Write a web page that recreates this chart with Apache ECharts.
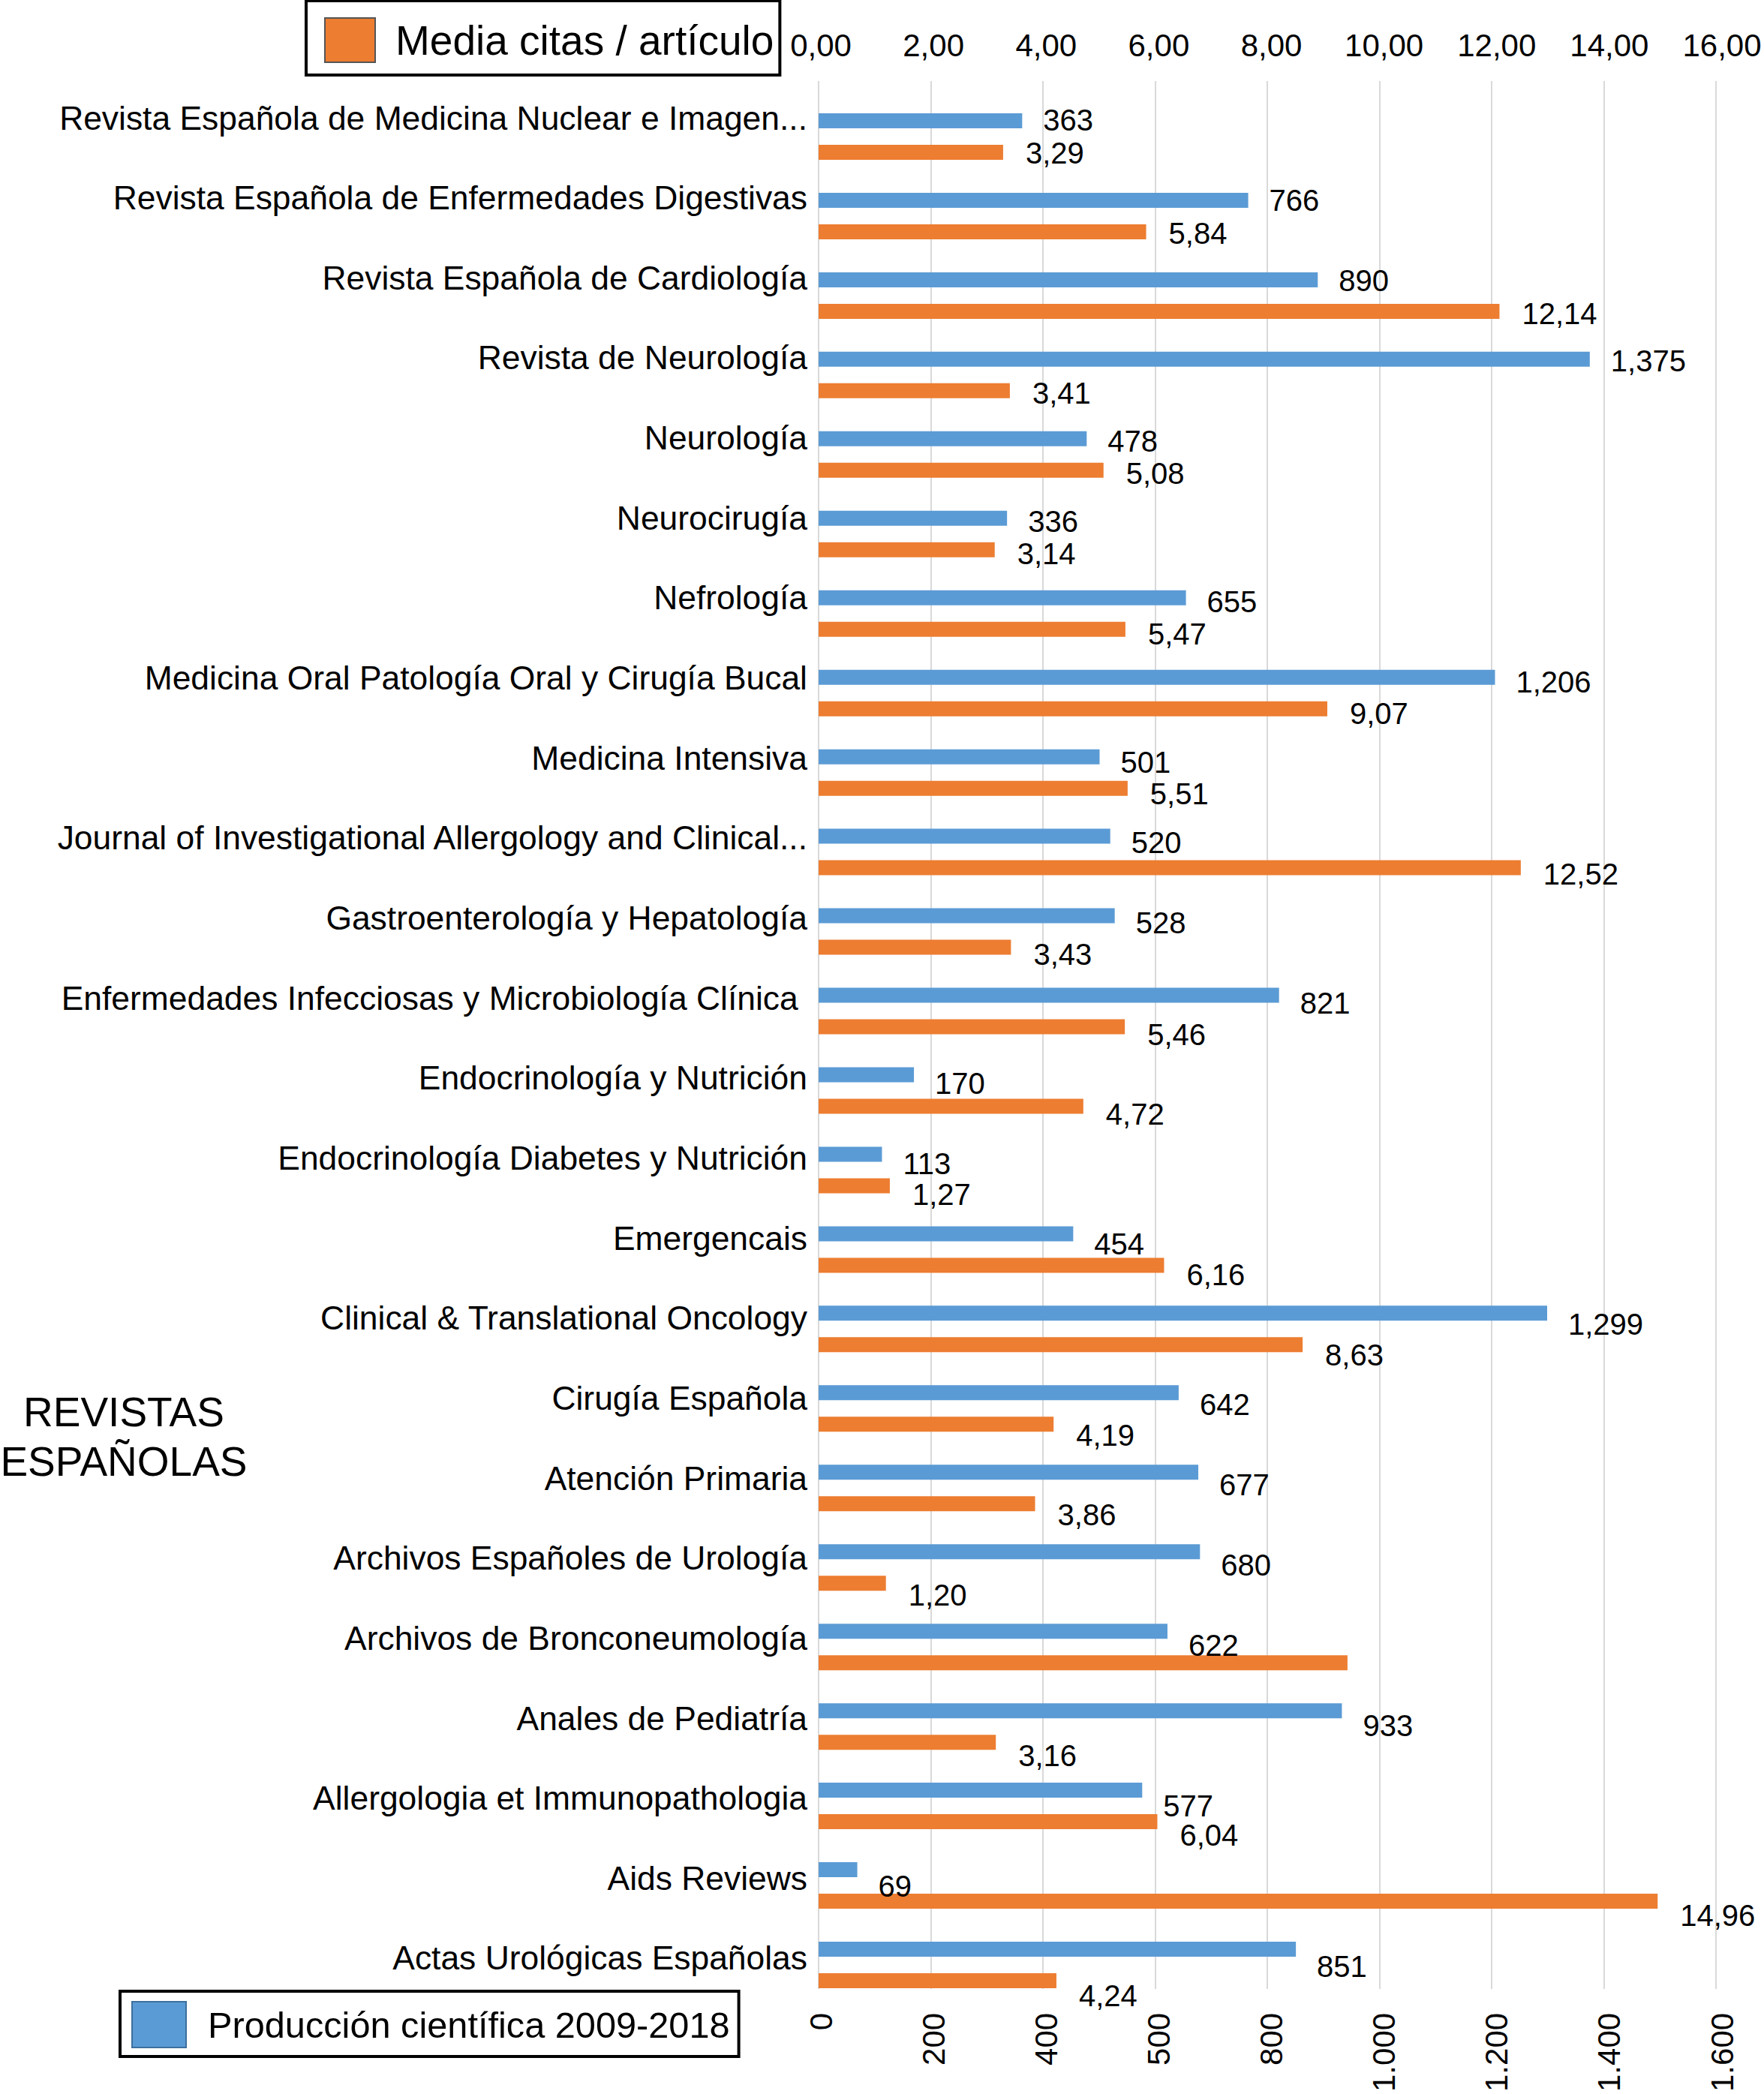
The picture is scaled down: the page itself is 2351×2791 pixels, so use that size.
<!DOCTYPE html>
<html>
<head>
<meta charset="utf-8">
<script src="https://cdn.jsdelivr.net/npm/echarts@6/dist/echarts.min.js"></script>
<style>
html,body{margin:0;padding:0;background:#ffffff;}
#chart{width:2351px;height:2791px;}
</style>
</head>
<body>
<div id="chart"></div>
<script>
const categories = [
  'Revista Española de Medicina Nuclear e Imagen...',
  'Revista Española de Enfermedades Digestivas',
  'Revista Española de Cardiología',
  'Revista de Neurología',
  'Neurología',
  'Neurocirugía',
  'Nefrología',
  'Medicina Oral Patología Oral y Cirugía Bucal',
  'Medicina Intensiva',
  'Journal of Investigational Allergology and Clinical...',
  'Gastroenterología y Hepatología',
  'Enfermedades Infecciosas y Microbiología Clínica\u00a0',
  'Endocrinología y Nutrición',
  'Endocrinología Diabetes y Nutrición',
  'Emergencais',
  'Clinical & Translational Oncology',
  'Cirugía Española',
  'Atención Primaria',
  'Archivos Españoles de Urología',
  'Archivos de Bronconeumología',
  'Anales de Pediatría',
  'Allergologia et Immunopathologia',
  'Aids Reviews',
  'Actas Urológicas Españolas'
];
const produccion = [363, 766, 890, 1375, 478, 336, 655, 1206, 501, 520, 528, 821, 170, 113, 454, 1299, 642, 677, 680, 622, 933, 577, 69, 851];
const mediaCitas = [3.29, 5.84, 12.14, 3.41, 5.08, 3.14, 5.47, 9.07, 5.51, 12.52, 3.43, 5.46, 4.72, 1.27, 6.16, 8.63, 4.19, 3.86, 1.20, 9.43, 3.16, 6.04, 14.96, 4.24];
const produccionLabels = ['363','766','890','1,375','478','336','655','1,206','501','520','528','821','170','113','454','1,299','642','677','680','622','933','577','69','851'];
const mediaCitasLabels = ['3,29','5,84','12,14','3,41','5,08','3,14','5,47','9,07','5,51','12,52','3,43','5,46','4,72','1,27','6,16','8,63','4,19','3,86','1,20','','3,16','6,04','14,96','4,24'];
const topTicks = ['0,00','2,00','4,00','6,00','8,00','10,00','12,00','14,00','16,00'];
const bottomTicks = ['0','200','400','500','800','1.000','1.200','1.400','1.600'];
const seriesNames = ['Producción científica 2009-2018', 'Media citas / artículo'];
const sideTitle = 'REVISTAS\nESPAÑOLAS';

const FONT = 'Liberation Sans, Arial, Helvetica, sans-serif';
const BLUE = '#5b9bd5';
const ORANGE = '#ed7d31';
const GRID = '#d9d9d9';

// the reference's text layer sits progressively lower than its bars towards the bottom
const n = categories.length;
function blueDrift(i) { return -1 + 24 * i / (n - 1); }
function orangeDrift(i) { return 1 + 19 * i / (n - 1); }

const chart = echarts.init(document.getElementById('chart'), null, {renderer: 'svg'});

const option = {
  backgroundColor: '#ffffff',
  animation: false,
  textStyle: {fontFamily: FONT, color: '#000'},
  grid: [
    // plot area (bars + gridlines)
    {left: 1091, right: 64, top: 108, bottom: 140, containLabel: false},
    // category label layer
    {left: 1091, right: 64, top: 103.7, bottom: 127.7, containLabel: false},
    // tick label layer
    {left: 1094, right: 56, top: 108, bottom: 140, containLabel: false}
  ],
  legend: [
    {
      data: [seriesNames[1]],
      left: 408, top: 1,
      orient: 'horizontal',
      icon: 'rect',
      itemWidth: 67, itemHeight: 59,
      padding: [22, 8, 16, 24],
      borderColor: '#000', borderWidth: 4,
      itemStyle: {borderColor: '#555555', borderWidth: 2},
      textStyle: {fontSize: 55, color: '#000', fontFamily: FONT, padding: [0, 0, 0, 22]},
      selectedMode: false
    },
    {
      data: [seriesNames[0]],
      left: 160, top: 2654,
      orient: 'horizontal',
      icon: 'rect',
      itemWidth: 72, itemHeight: 61,
      padding: [13, 12, 11, 15],
      borderColor: '#000', borderWidth: 4,
      itemStyle: {borderColor: '#3d6f9e', borderWidth: 2},
      textStyle: {fontSize: 48.7, color: '#000', fontFamily: FONT, padding: [0, 0, 0, 24]},
      selectedMode: false
    }
  ],
  graphic: [
    {
      type: 'text',
      x: 165, y: 1915,
      style: {
        text: sideTitle,
        align: 'center', verticalAlign: 'middle',
        fontSize: 55, lineHeight: 66, fontFamily: FONT, fill: '#000'
      }
    }
  ],
  xAxis: [
    {
      type: 'value', position: 'bottom', gridIndex: 0,
      min: 0, max: 1600, interval: 200,
      axisLine: {show: false}, axisTick: {show: false},
      splitLine: {show: true, lineStyle: {color: GRID, width: 2}},
      axisLabel: {show: false}
    },
    {
      type: 'value', position: 'top', gridIndex: 0,
      min: 0, max: 16, interval: 2,
      axisLine: {show: false}, axisTick: {show: false},
      splitLine: {show: false},
      axisLabel: {show: false}
    },
    {
      type: 'value', gridIndex: 1, min: 0, max: 1600, show: false
    },
    {
      type: 'value', position: 'bottom', gridIndex: 2,
      min: 0, max: 1600, interval: 200,
      axisLine: {show: false}, axisTick: {show: false}, splitLine: {show: false},
      axisLabel: {
        rotate: 90, margin: 39, fontSize: 42, color: '#000', fontFamily: FONT,
        formatter: function (v) { return bottomTicks[Math.round(v / 200)]; }
      }
    },
    {
      type: 'value', position: 'top', gridIndex: 2,
      min: 0, max: 16, interval: 2,
      axisLine: {show: false}, axisTick: {show: false}, splitLine: {show: false},
      axisLabel: {
        margin: 27, fontSize: 42, color: '#000', fontFamily: FONT,
        formatter: function (v) { return topTicks[Math.round(v / 2)]; }
      }
    }
  ],
  yAxis: [
    {
      type: 'category', inverse: true, gridIndex: 0,
      data: categories,
      axisLine: {show: false}, axisTick: {show: false},
      axisLabel: {show: false}
    },
    {
      type: 'category', inverse: true, gridIndex: 1,
      data: categories,
      axisLine: {show: false}, axisTick: {show: false},
      splitLine: {show: false},
      axisLabel: {margin: 15, fontSize: 44.4, color: '#000', fontFamily: FONT, interval: 0}
    },
    {
      type: 'category', inverse: true, gridIndex: 2,
      data: categories, show: false
    }
  ],
  series: [
    {
      name: 'spacer', type: 'bar', xAxisIndex: 0, yAxisIndex: 0,
      data: [], barWidth: 20, barGap: '110%', silent: true
    },
    {
      name: seriesNames[0], type: 'bar', xAxisIndex: 0, yAxisIndex: 0,
      data: produccion.map(function (v, i) { return {value: v, label: {offset: [0, blueDrift(i)]}}; }),
      barWidth: 20, barGap: '110%',
      itemStyle: {color: BLUE},
      label: {
        show: true, position: 'right', distance: 28,
        fontSize: 40, color: '#000', fontFamily: FONT,
        formatter: function (p) { return produccionLabels[p.dataIndex]; }
      }
    },
    {
      name: seriesNames[1], type: 'bar', xAxisIndex: 1, yAxisIndex: 0,
      data: mediaCitas.map(function (v, i) { return {value: v, label: {offset: [0, orangeDrift(i)]}}; }),
      barWidth: 20, barGap: '110%',
      itemStyle: {color: ORANGE},
      label: {
        show: true, position: 'right', distance: 30,
        fontSize: 40, color: '#000', fontFamily: FONT,
        formatter: function (p) { return mediaCitasLabels[p.dataIndex]; }
      }
    }
  ]
};
chart.setOption(option);
</script>
</body>
</html>
